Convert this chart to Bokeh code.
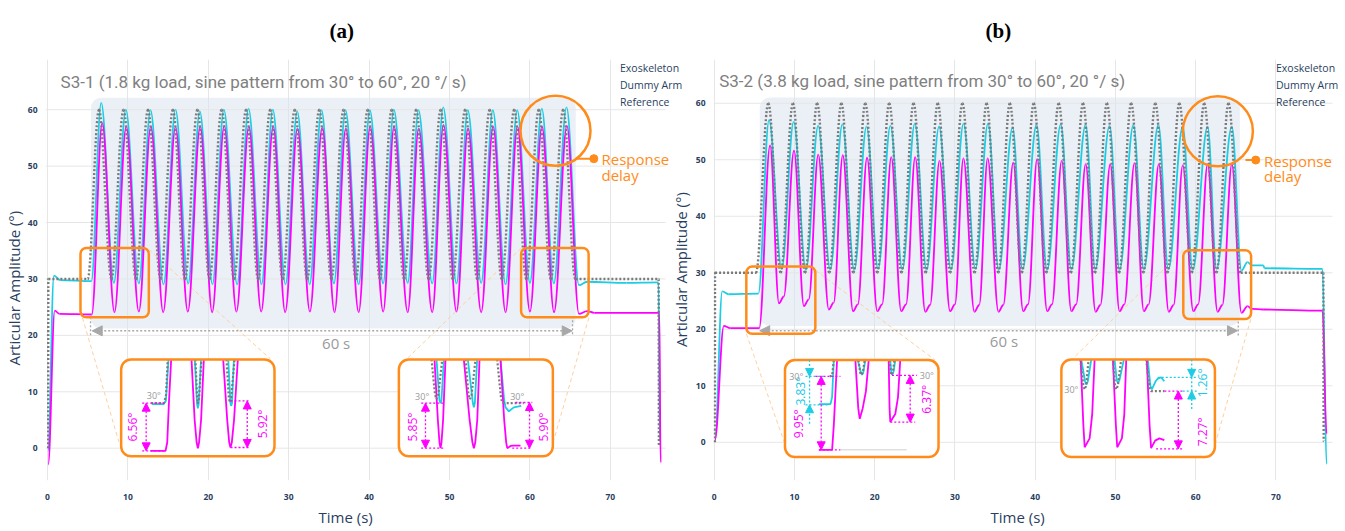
import math
from bokeh.plotting import figure
from bokeh.models import (Range1d, BoxAnnotation, Label, Arrow, NormalHead, Legend,
                          LegendItem, FixedTicker, Title)
from bokeh.layouts import row
from bokeh.embed import file_html
from bokeh.resources import INLINE

# ---------------------------------------------------------------- data (a)
EXO_A_START_T = [0.05, 0.8, 1.6, 5.45]
EXO_A_START_Y = [-0.5, 30.6, 29.8, 29.6]
EXO_A_PEAK_T = [6.68, 9.74, 12.81, 15.92, 18.94, 21.93, 25.0, 28.02, 31.06, 34.08,
                37.06, 40.09, 43.07, 46.14, 49.22, 52.27, 55.39, 58.42, 61.48, 64.55]
EXO_A_PEAK_Y = [61.2, 60.0, 59.9, 60.0, 59.7, 60.0, 60.2, 60.0, 59.7, 59.9,
                59.9, 59.9, 60.0, 59.9, 60.4, 59.9, 59.9, 59.9, 60.2, 60.4]
EXO_A_TROUGH_T = [8.25, 11.36, 14.43, 17.5, 20.52, 23.59, 26.62, 29.6, 32.6, 35.62,
                  38.7, 41.75, 44.8, 47.85, 50.87, 53.94, 56.97, 60.0, 62.97]
EXO_A_TROUGH_Y = [29.3, 29.2, 29.05, 29.2, 29.05, 29.05, 29.05, 29.05, 29.05, 29.2,
                  29.05, 29.2, 29.3, 29.2, 29.2, 29.3, 29.05, 29.3, 29.2]
EXO_A_END_T = [66.1, 67.1, 72.0, 76.0, 76.15]
EXO_A_END_Y = [28.9, 29.5, 29.3, 29.4, 1.2]

DUM_A_START_T = [0.08, 0.9, 1.5, 5.5]
DUM_A_START_Y = [-2.9, 24.4, 23.8, 23.7]
DUM_A_PEAK_T = [6.8, 9.79, 12.85, 15.92, 18.99, 21.98, 25.04, 28.07, 31.09, 34.17,
                37.1, 40.13, 43.1, 46.17, 49.25, 52.3, 55.42, 58.45, 61.5, 64.6]
DUM_A_PEAK_Y = [57.6, 57.0, 57.0, 56.9, 57.0, 57.15, 57.0, 57.0, 56.7, 56.8,
                56.7, 57.0, 57.0, 56.7, 57.3, 56.7, 57.0, 57.0, 57.0, 57.15]
DUM_A_TROUGH_T = [8.33, 11.36, 14.39, 17.45, 20.48, 23.5, 26.58, 29.56, 32.63, 35.7,
                  38.7, 41.75, 44.8, 47.85, 50.87, 53.94, 56.97, 60.0, 63.0]
DUM_A_TROUGH_Y = [24.1, 24.2, 24.1, 24.2, 24.1, 24.2, 24.2, 24.1, 24.2, 24.1,
                  24.1, 24.2, 24.1, 24.1, 24.2, 24.1, 24.1, 24.2, 24.1]
DUM_A_END_T = [66.1, 67.1, 68.0, 76.1, 76.25]
DUM_A_END_Y = [23.8, 24.3, 24.0, 24.0, -2.6]

REF_A_START_T = [0.08, 0.1, 5.0]
REF_A_START_Y = [0.0, 30.0, 30.0]
REF_A_PEAK_T = [6.4, 9.45, 12.5, 15.6, 18.65, 21.65, 24.7, 27.7, 30.75, 33.8,
                36.82, 39.82, 42.8, 45.85, 48.9, 51.95, 55.0, 58.05, 61.1, 64.14]
REF_A_PEAK_Y = [60.0] * 20
REF_A_TROUGH_T = [7.95, 11.0, 14.05, 17.1, 20.15, 23.2, 26.2, 29.25, 32.3, 35.3,
                  38.35, 41.35, 44.35, 47.4, 50.4, 53.45, 56.5, 59.55, 62.6]
REF_A_TROUGH_Y = [30.0] * 19
REF_A_END_T = [65.65, 76.0, 76.05]
REF_A_END_Y = [30.0, 30.0, 0.3]

# ---------------------------------------------------------------- data (b)
EXO_B_START_T = [0.1, 1.0, 1.8, 5.5]
EXO_B_START_Y = [0.5, 26.7, 26.2, 26.3]
EXO_B_PEAK_T = [6.83, 9.9, 12.95, 15.97, 18.98, 21.96, 25.0, 28.02, 31.07, 34.12,
                37.18, 40.16, 43.18, 46.28, 49.26, 52.24, 55.35, 58.38, 61.48, 64.5]
EXO_B_PEAK_Y = [57.0, 56.7, 56.0, 56.25, 55.85, 56.0, 56.4, 55.85, 56.4, 56.4,
                55.7, 56.15, 56.25, 56.15, 56.0, 56.15, 56.15, 55.85, 55.85, 55.85]
EXO_B_TROUGH_T = [8.4, 11.42, 14.45, 17.45, 20.42, 23.44, 26.46, 29.5, 32.55, 35.45,
                  38.42, 41.48, 44.5, 47.48, 50.5, 53.53, 56.59, 59.62, 62.6]
EXO_B_TROUGH_Y = [30.7, 30.5, 30.6, 30.5, 30.7, 30.6, 30.5, 30.6, 30.7, 30.5,
                  30.6, 30.5, 30.6, 30.6, 30.5, 30.6, 30.6, 30.5, 30.7]
EXO_B_END_T = [65.7, 66.45, 67.0, 68.4, 68.6, 75.8, 76.3]
EXO_B_END_Y = [30.4, 31.9, 31.3, 31.3, 30.8, 30.7, -3.9]

DUM_B_START_T = [0.08, 1.2, 2.0, 5.6]
DUM_B_START_Y = [0.4, 20.6, 20.2, 20.2]
DUM_B_PEAK_T = [6.96, 9.94, 12.96, 16.02, 19.04, 22.06, 25.04, 28.07, 31.05, 34.07,
                37.26, 40.24, 43.3, 46.28, 49.35, 52.37, 55.4, 58.38, 61.48, 64.5]
DUM_B_PEAK_Y = [52.55, 51.6, 50.9, 50.8, 50.35, 50.45, 50.45, 49.8, 50.25, 50.25,
                49.5, 50.1, 49.8, 49.2, 49.2, 49.4, 49.2, 49.0, 49.2, 49.2]
DUM_B_TROUGH_T = [8.07, 11.18, 14.28, 17.3, 20.32, 23.3, 26.3, 29.39, 32.42, 35.42,
                  38.5, 41.49, 44.5, 47.52, 50.5, 53.53, 56.64, 59.7, 62.72]
DUM_B_TROUGH_Y = [24.6, 24.1, 23.5, 23.2, 23.2, 23.2, 23.1, 23.2, 23.1, 23.1,
                  23.2, 23.2, 23.2, 23.1, 23.2, 23.2, 23.1, 23.2, 23.1]
DUM_B_KINK_T = [8.67, 11.78, 14.88, 17.9, 20.92, 23.9, 26.9, 29.99, 33.02, 36.02,
                39.1, 42.09, 45.1, 48.12, 51.1, 54.13, 57.24, 60.3, 63.32]
DUM_B_KINK_Y = [25.8, 25.3, 24.7, 24.4, 24.4, 24.4, 24.3, 24.4, 24.3, 24.3,
                24.4, 24.4, 24.4, 24.3, 24.4, 24.4, 24.3, 24.4, 24.3]
DUM_B_END_T = [65.7, 66.45, 67.0, 68.4, 75.8, 76.3]
DUM_B_END_Y = [22.9, 24.1, 23.6, 23.5, 23.3, 1.5]

REF_B_START_T = [0.08, 0.1, 5.2]
REF_B_START_Y = [0.0, 30.0, 30.0]
REF_B_PEAK_T = [6.74, 9.81, 12.83, 15.85, 18.83, 21.81, 24.84, 27.86, 30.93, 33.95,
                36.84, 39.82, 42.93, 45.96, 48.94, 51.96, 54.97, 57.96, 61.06, 64.09]
REF_B_PEAK_Y = [60.0] * 20
REF_B_TROUGH_T = [8.28, 11.32, 14.34, 17.34, 20.32, 23.33, 26.35, 29.4, 32.44, 35.4,
                  38.33, 41.38, 44.45, 47.45, 50.45, 53.47, 56.47, 59.51, 62.58]
REF_B_TROUGH_Y = [30.0] * 19
REF_B_END_T = [65.6, 75.9, 75.95]
REF_B_END_Y = [30.0, 30.0, 0.2]

# ---------------------------------------------------------------- inset views
A1_BOX = (9.16, 28.23, -1.44, 15.74)
A1_MAG = [([12.81, 14.68, 14.89, 15.1, 15.38], [-0.47, -0.47, 1.0, 8.0, 15.74]),
          ([17.91, 18.3, 18.55, 18.7, 18.85, 19.1, 19.44], [15.74, 5.0, 1.0, 0.0, 1.0, 5.0, 15.74]),
          ([21.85, 22.35, 22.6, 22.76, 22.92, 23.2, 23.67], [15.74, 5.0, 1.0, 0.1, 1.0, 5.0, 15.74])]
A1_CYAN = [([13.02, 14.43, 14.72, 15.05], [7.81, 7.81, 8.39, 15.74]),
           ([18.32, 18.6, 18.7, 18.8, 19.1], [15.74, 7.8, 7.06, 7.8, 15.74]),
           ([22.48, 22.75, 22.84, 22.95, 23.18], [15.74, 8.0, 7.5, 8.0, 15.74])]
A1_GRAY = [([12.9, 14.5, 14.75, 14.95], [8.0, 8.0, 9.5, 15.74]),
           ([18.4, 18.6, 18.7, 18.85, 19.15], [15.74, 9.0, 7.9, 9.0, 15.74]),
           ([22.26, 22.55, 22.68, 22.85, 23.26], [15.74, 9.0, 8.1, 9.0, 15.74])]

A2_BOX = (43.7, 62.85, -1.44, 15.74)
A2_MAG = [([48.13, 48.55, 48.75, 48.88, 49.0, 49.2, 49.5], [15.74, 5.0, 1.0, 0.0, 1.0, 5.0, 15.74]),
          ([51.78, 52.5, 52.85, 53.03, 53.2, 53.45, 53.73], [15.74, 5.0, 1.0, 0.0, 1.0, 5.0, 15.74]),
          ([56.34, 56.8, 57.05, 57.18, 57.4, 57.59, 57.92, 58.83], [15.74, 5.0, 1.0, 0.0, 0.2, 0.4, 0.46, 0.46])]
A2_CYAN = [([48.38, 48.75, 48.88, 49.0, 49.3], [15.74, 8.5, 7.98, 8.5, 15.74]),
           ([52.28, 52.9, 53.03, 53.15, 53.44], [15.74, 8.0, 7.23, 8.0, 15.74]),
           ([56.34, 56.8, 56.97, 57.38, 58.0, 58.92], [15.74, 8.5, 7.23, 6.54, 7.23, 7.52])]
A2_GRAY = [([47.76, 48.2, 48.38, 48.6, 49.1], [15.74, 9.5, 8.68, 9.5, 15.74]),
           ([52.0, 52.35, 52.53, 52.75, 53.23], [15.74, 9.5, 8.68, 9.5, 15.74]),
           ([55.93, 56.4, 56.55, 57.0, 59.24], [15.74, 9.0, 8.1, 7.98, 7.98])]

B1_BOX = (8.82, 27.95, -2.6, 14.55)
B1_MAG = [([13.04, 14.69, 14.9, 15.31], [-1.33, -1.33, 3.0, 14.55]),
          ([17.59, 17.95, 18.13, 18.5, 18.9, 19.25], [14.55, 6.0, 4.16, 6.0, 9.0, 14.55]),
          ([21.74, 21.85, 21.94, 22.56, 22.9, 23.18], [14.55, 6.0, 3.58, 5.0, 8.0, 14.55])]
B1_CYAN = [([13.04, 14.49, 14.69, 14.9], [6.76, 6.76, 8.0, 14.55]),
           ([17.89, 18.25, 18.42, 18.6, 18.83], [14.55, 12.5, 11.95, 12.5, 14.55]),
           ([21.94, 22.05, 22.15, 22.35, 22.56], [14.55, 12.5, 11.95, 12.5, 14.55])]
B1_GRAY = [([14.4, 14.7, 14.9], [11.66, 11.8, 14.55]),
           ([17.96, 18.2, 18.34, 18.5, 18.75], [14.55, 12.3, 11.9, 12.3, 14.55]),
           ([21.85, 22.0, 22.1, 22.25, 22.45], [14.55, 12.3, 11.9, 12.3, 14.55])]

B2_BOX = (43.26, 62.39, -2.6, 14.67)
B2_MAG = [([45.66, 46.0, 46.16, 46.78, 47.1, 47.4], [14.67, 3.0, -0.87, 0.69, 5.0, 14.67]),
          ([49.68, 50.05, 50.22, 50.8, 51.1, 51.34], [14.67, 3.0, -0.87, 0.69, 5.0, 14.67]),
          ([53.9, 54.25, 54.44, 54.94, 55.47, 56.09], [14.67, 3.0, -1.04, 0.29, 0.69, 0.4])]
B2_CYAN = [([45.74, 46.2, 46.37, 46.55, 46.99], [14.67, 10.8, 10.22, 10.8, 14.67]),
           ([49.89, 50.15, 50.3, 50.5, 51.05], [14.67, 11.0, 10.51, 11.0, 14.67]),
           ([54.02, 54.35, 54.53, 55.0, 55.27, 55.68, 56.09], [14.67, 10.0, 9.36, 10.8, 11.26, 11.49, 10.8])]
B2_GRAY = [([45.62, 46.0, 46.16, 46.35, 46.65], [14.67, 10.0, 9.36, 10.0, 14.67]),
           ([49.68, 49.95, 50.09, 50.3, 50.71], [14.67, 10.0, 9.36, 10.0, 14.67]),
           ([53.82, 54.25, 54.44, 56.09], [14.67, 9.6, 9.07, 9.07])]

X_TICKS = [0, 10, 20, 30, 40, 50, 60, 70]
Y_TICKS = [0, 10, 20, 30, 40, 50, 60]
SERIES_NAMES = ["Exoskeleton", "Dummy Arm", "Reference"]
TITLE_A = "S3-1 (1.8 kg load, sine pattern from 30° to 60°, 20 °/ s)"
TITLE_B = "S3-2 (3.8 kg load, sine pattern from 30° to 60°, 20 °/ s)"
X_TITLE = "Time (s)"
Y_TITLE = "Articular Amplitude (°)"

# ---------------------------------------------------------------- styles
CYAN = "#1dcde3"
MAG = "#ff00ff"
GRAY = "#7a7a7a"
ORANGE = "#ff8c1a"
AXC = "#2a3f5f"
GRID = "#e6e6e6"
FONT = "Open Sans"


def seq(start_t, start_y, pk_t, pk_y, tr_t, tr_y, end_t, end_y, kink_t=None, kink_y=None):
    ts, ys = list(start_t), list(start_y)
    for i in range(len(pk_t)):
        ts.append(pk_t[i]); ys.append(pk_y[i])
        if i < len(tr_t):
            ts.append(tr_t[i]); ys.append(tr_y[i])
            if kink_t is not None:
                ts.append(kink_t[i]); ys.append(kink_y[i])
    ts += list(end_t); ys += list(end_y)
    return ts, ys


def smooth(p, ts, ys, color, width, dash="solid"):
    x0, x1, y0, y1 = ts[:-1], ts[1:], ys[:-1], ys[1:]
    k = 0.36
    cx0 = [a + (b - a) * k for a, b in zip(x0, x1)]
    cx1 = [b - (b - a) * k for a, b in zip(x0, x1)]
    p.bezier(x0=x0, y0=y0, x1=x1, y1=y1, cx0=cx0, cy0=y0, cx1=cx1, cy1=y1,
             line_color=color, line_width=width, line_dash=dash)


def txt(p, x, y, s, size, color, angle=0.0, align="left", baseline="middle",
        font=FONT, style="normal"):
    p.add_layout(Label(x=x, y=y, text=s, text_font_size=size, text_color=color,
                       angle=angle, text_align=align, text_baseline=baseline,
                       text_font=font, text_font_style=style))


def hline(p, x0, x1, y, color, dash="2 2", width=1.3):
    p.line([x0, x1], [y, y], line_color=color, line_dash=dash, line_width=width)


def dim_arrow(p, x, y0, y1, color, both=True):
    head = lambda: NormalHead(size=8, fill_color=color, line_color=color, line_width=1)
    p.add_layout(Arrow(x_start=x, y_start=y0, x_end=x, y_end=y1,
                       start=head() if both else None, end=head(),
                       line_color=color, line_dash="2 2", line_width=1.3))


def make_fig(width, xr, yr, left, right, panel, title_off, xt_off, grid_x_end, yt_off=None):
    p = figure(width=width, height=528, x_range=Range1d(*xr), y_range=Range1d(*yr),
               output_backend="svg", toolbar_location=None,
               min_border_left=left, min_border_right=right,
               min_border_top=58, min_border_bottom=40)
    p.outline_line_color = None
    p.background_fill_color = "white"
    for ax in (p.xaxis[0], p.yaxis[0]):
        ax.axis_line_color = None
        ax.major_tick_line_color = None
        ax.minor_tick_line_color = None
        ax.major_label_text_font = FONT
        ax.major_label_text_font_size = "8.5px"
        ax.major_label_text_font_style = "bold"
        ax.major_label_text_color = AXC
    p.xaxis[0].ticker = FixedTicker(ticks=X_TICKS)
    p.yaxis[0].ticker = FixedTicker(ticks=Y_TICKS)
    p.xaxis[0].major_label_standoff = 7
    p.yaxis[0].major_label_standoff = 2
    p.xgrid.grid_line_color = GRID
    p.ygrid.visible = False
    # horizontal grid lines, stopping where the reference's plot area ends
    p.segment(x0=[xr[0]] * len(Y_TICKS), y0=Y_TICKS, x1=[grid_x_end] * len(Y_TICKS),
              y1=Y_TICKS, line_color=GRID, line_width=1)
    # panel title "(a)" / "(b)"
    p.title.text = panel
    p.title.align = "left"
    p.title.offset = title_off
    p.title.standoff = 33
    p.title.text_font = "Liberation Serif"
    p.title.text_font_size = "21px"
    p.title.text_font_style = "bold"
    p.title.text_color = "black"
    p.add_layout(Title(text=X_TITLE, align="left", offset=xt_off, standoff=4,
                       text_font=FONT, text_font_size="15px", text_font_style="normal",
                       text_color=AXC), "below")
    if yt_off is not None:
        p.add_layout(Title(text=Y_TITLE, align="left", offset=yt_off, standoff=2,
                           text_font=FONT, text_font_size="15px", text_font_style="normal",
                           text_color=AXC), "left")
    return p


def draw_inset(p, box, mag, cyan, gray):
    l, r, b, t = box
    p.quad(left=[l], right=[r], bottom=[b], top=[t], fill_color="white", line_alpha=0)
    for xs, ys in cyan:
        p.line(xs, ys, line_color=CYAN, line_width=1.8)
    for xs, ys in mag:
        p.line(xs, ys, line_color=MAG, line_width=1.8)
    for xs, ys in gray:
        p.line(xs, ys, line_color=GRAY, line_width=2.2, line_dash="2 2")
    p.add_layout(BoxAnnotation(left=l, right=r, bottom=b, top=t, fill_alpha=0,
                               line_color=ORANGE, line_alpha=1, line_width=2.5,
                               border_radius=10))


def small_box(p, l, r, b, t):
    p.add_layout(BoxAnnotation(left=l, right=r, bottom=b, top=t, fill_alpha=0,
                               line_color=ORANGE, line_alpha=1, line_width=2.5,
                               border_radius=6))


def legend(p, x, y):
    r1 = p.line(x=[], y=[], line_color=CYAN, line_width=2)
    r2 = p.line(x=[], y=[], line_color=MAG, line_width=2)
    r3 = p.line(x=[], y=[], line_color=GRAY, line_width=2.5, line_dash="2 2")
    leg = Legend(items=[LegendItem(label=SERIES_NAMES[0], renderers=[r1]),
                        LegendItem(label=SERIES_NAMES[1], renderers=[r2]),
                        LegendItem(label=SERIES_NAMES[2], renderers=[r3])],
                 location=(x, y), padding=0, margin=0, spacing=1,
                 glyph_width=23, glyph_height=16, label_height=16, label_standoff=4,
                 label_text_font=FONT, label_text_font_size="10.5px", label_text_color=AXC,
                 border_line_alpha=0, background_fill_alpha=0)
    p.add_layout(leg)


def shade(p, l, r, b, t):
    p.add_layout(BoxAnnotation(left=l, right=r, bottom=b, top=t, fill_color="#dbe4f0",
                               fill_alpha=0.55, line_alpha=0, border_radius=10,
                               level="underlay"))


def span_arrow(p, x0, x1, y):
    p.add_layout(Arrow(x_start=x0, y_start=y, x_end=x1, y_end=y,
                       start=NormalHead(size=10, fill_color="#a8a8a8", line_color="#a8a8a8"),
                       end=NormalHead(size=10, fill_color="#a8a8a8", line_color="#a8a8a8"),
                       line_color="#a8a8a8", line_dash="2 2", line_width=1.5))


def delay_marker(p, cx, cy, lx, dx, dy, tx, ty1, ty2):
    p.scatter([cx], [cy], size=70, marker="circle", fill_alpha=0, line_color=ORANGE,
              line_width=2.5)
    p.line([lx, dx], [dy, dy], line_color=ORANGE, line_width=2)
    p.scatter([dx], [dy], size=8, marker="circle", color=ORANGE)
    txt(p, tx, ty1, "Response", "15px", ORANGE)
    txt(p, tx, ty2, "delay", "15px", ORANGE)


# ================================================================ panel (a)
pa = make_fig(692, (-0.25, 80.22), (-5.727, 68.9), 45, 0, "(a)", 284, 273, 76.86, 115)
shade(pa, 5.4, 65.7, 21.2, 62.1)
pa.segment(x0=[4.35, 12.6, 58.92, 67.33], y0=[23.1, 35.2, 35.46, 23.13],
           x1=[8.87, 27.74, 44.74, 62.97], y1=[1.16, 15.8, 15.9, 1.44],
           line_color="#ffcf9f", line_dash="4 3", line_width=1)
span_arrow(pa, 5.56, 65.26, 20.8)
pa.segment(x0=[5.35, 65.3], y0=[20.0, 20.2], x1=[5.35, 65.3], y1=[23.0, 23.1],
           line_color="#a8a8a8", line_dash="2 2", line_width=1.3)
txt(pa, 35.9, 18.7, "60 s", "15px", "#9a9a9a", align="center")

ts, ys = seq(EXO_A_START_T, EXO_A_START_Y, EXO_A_PEAK_T, EXO_A_PEAK_Y, EXO_A_TROUGH_T,
             EXO_A_TROUGH_Y, EXO_A_END_T, EXO_A_END_Y)
smooth(pa, ts, ys, CYAN, 1.8)
ts, ys = seq(DUM_A_START_T, DUM_A_START_Y, DUM_A_PEAK_T, DUM_A_PEAK_Y, DUM_A_TROUGH_T,
             DUM_A_TROUGH_Y, DUM_A_END_T, DUM_A_END_Y)
smooth(pa, ts, ys, MAG, 1.8)
ts, ys = seq(REF_A_START_T, REF_A_START_Y, REF_A_PEAK_T, REF_A_PEAK_Y, REF_A_TROUGH_T,
             REF_A_TROUGH_Y, REF_A_END_T, REF_A_END_Y)
smooth(pa, ts, ys, GRAY, 2.4, "2 2")

small_box(pa, 4.1, 12.6, 23.2, 35.5)
small_box(pa, 58.9, 67.3, 23.2, 35.5)
delay_marker(pa, 63.18, 56.27, 65.7, 67.95, 51.32, 68.9, 51.25, 48.42)

draw_inset(pa, A1_BOX, A1_MAG, A1_CYAN, A1_GRAY)
hline(pa, 11.78, 14.68, 7.98, MAG); hline(pa, 11.78, 14.68, -0.47, MAG)
hline(pa, 22.76, 25.25, 8.38, MAG); hline(pa, 22.76, 25.25, 0.12, MAG)
dim_arrow(pa, 12.27, 7.98, -0.47, MAG)
dim_arrow(pa, 24.84, 8.38, 0.12, MAG)
txt(pa, 10.53, 3.76, "6.56°", "12px", MAG, angle=math.pi / 2, align="center")
txt(pa, 26.7, 4.3, "5.92°", "12px", MAG, angle=math.pi / 2, align="center")
txt(pa, 13.22, 9.42, "30°", "9px", "#999999", align="center")

draw_inset(pa, A2_BOX, A2_MAG, A2_CYAN, A2_GRAY)
hline(pa, 46.48, 49.3, 7.98, MAG); hline(pa, 46.48, 49.3, 0.0, MAG)
hline(pa, 58.2, 60.29, 8.1, MAG); hline(pa, 57.8, 60.29, 0.0, MAG)
dim_arrow(pa, 47.01, 7.98, 0.0, MAG)
dim_arrow(pa, 59.95, 8.1, 0.0, MAG)
txt(pa, 45.36, 3.76, "5.85°", "12px", MAG, angle=math.pi / 2, align="center")
txt(pa, 61.65, 3.76, "5.90°", "12px", MAG, angle=math.pi / 2, align="center")
txt(pa, 46.6, 9.08, "30°", "9px", "#999999", align="center")
txt(pa, 58.42, 9.08, "30°", "9px", "#999999", align="center")

legend(pa, 548, 370)
txt(pa, 1.62, 64.96, TITLE_A, "17px", "#808080", font="Roboto")
# y-axis title of panel (b) is drawn at the right edge of this canvas
txt(pa, 78.73, 31.67, Y_TITLE, "15px", AXC, angle=math.pi / 2, align="center")

# ================================================================ panel (b)
pb = make_fig(653, (-0.09, 78.04), (-6.76, 67.74), 19, 5, "(b)", 272, 277, 77.05, None)
shade(pb, 5.67, 65.5, 20.6, 61.0)
pb.segment(x0=[4.01, 12.62, 58.45, 66.86], y0=[19.18, 30.44, 34.0, 21.78],
           x1=[8.69, 27.52, 44.72, 62.51], y1=[0.17, 14.55, 14.85, 0.12],
           line_color="#ffcf9f", line_dash="4 3", line_width=1)
span_arrow(pb, 5.67, 65.2, 19.75)
pb.segment(x0=[65.3], y0=[18.9], x1=[65.3], y1=[21.8],
           line_color="#a8a8a8", line_dash="2 2", line_width=1.3)
txt(pb, 36.1, 17.9, "60 s", "15px", "#9a9a9a", align="center")

ts, ys = seq(EXO_B_START_T, EXO_B_START_Y, EXO_B_PEAK_T, EXO_B_PEAK_Y, EXO_B_TROUGH_T,
             EXO_B_TROUGH_Y, EXO_B_END_T, EXO_B_END_Y)
smooth(pb, ts, ys, CYAN, 1.8)
ts, ys = seq(DUM_B_START_T, DUM_B_START_Y, DUM_B_PEAK_T, DUM_B_PEAK_Y, DUM_B_TROUGH_T,
             DUM_B_TROUGH_Y, DUM_B_END_T, DUM_B_END_Y, DUM_B_KINK_T, DUM_B_KINK_Y)
smooth(pb, ts, ys, MAG, 1.8)
ts, ys = seq(REF_B_START_T, REF_B_START_Y, REF_B_PEAK_T, REF_B_PEAK_Y, REF_B_TROUGH_T,
             REF_B_TROUGH_Y, REF_B_END_T, REF_B_END_Y)
smooth(pb, ts, ys, GRAY, 2.4, "2 2")

small_box(pb, 4.0, 12.6, 19.2, 31.1)
small_box(pb, 58.45, 66.9, 21.8, 34.0)
delay_marker(pb, 62.76, 55.04, 66.2, 67.48, 49.95, 68.51, 49.77, 47.18)

draw_inset(pb, B1_BOX, B1_MAG, B1_CYAN, B1_GRAY)
hline(pb, 11.38, 13.86, 11.66, CYAN); hline(pb, 11.38, 14.28, 6.64, CYAN)
hline(pb, 12.62, 15.73, 11.66, MAG); hline(pb, 13.04, 15.73, -1.33, MAG)
hline(pb, 15.73, 24.0, -1.33, "#d0d0d0", dash="solid", width=1)
pb.line([11.88, 11.88], [11.66, 6.64], line_color=CYAN, line_dash="2 2", line_width=1.3)
dim_arrow(pb, 11.88, 14.55, 11.66, CYAN, both=False)
dim_arrow(pb, 11.88, 3.29, 6.64, CYAN, both=False)
dim_arrow(pb, 13.33, 11.66, -1.33, MAG)
hline(pb, 22.15, 25.25, 11.83, MAG); hline(pb, 21.94, 25.04, 3.58, MAG)
dim_arrow(pb, 24.42, 11.83, 3.58, MAG)
txt(pb, 10.76, 9.06, "3.83°", "12px", "#1dc8e6", angle=math.pi / 2, align="center")
txt(pb, 10.56, 3.29, "9.95°", "12px", MAG, angle=math.pi / 2, align="center")
txt(pb, 26.49, 7.62, "6.37°", "12px", MAG, angle=math.pi / 2, align="center")
txt(pb, 10.22, 11.66, "30°", "9px", "#999999", align="center")
txt(pb, 26.49, 11.83, "30°", "9px", "#999999", align="center")

draw_inset(pb, B2_BOX, B2_MAG, B2_CYAN, B2_GRAY)
hline(pb, 55.27, 60.24, 11.49, CYAN); hline(pb, 58.38, 60.24, 9.07, CYAN)
hline(pb, 56.09, 58.38, 9.07, MAG); hline(pb, 55.06, 58.38, -1.16, MAG)
pb.line([59.5, 59.5], [11.49, 9.07], line_color=CYAN, line_dash="2 2", line_width=1.3)
dim_arrow(pb, 59.5, 14.67, 11.49, CYAN, both=False)
dim_arrow(pb, 59.5, 5.89, 9.07, CYAN, both=False)
dim_arrow(pb, 57.83, 9.07, -1.16, MAG)
txt(pb, 60.86, 10.51, "1.26°", "12px", "#1dc8e6", angle=math.pi / 2, align="center")
txt(pb, 60.86, 1.85, "7.27°", "12px", MAG, angle=math.pi / 2, align="center")
txt(pb, 44.5, 9.36, "30°", "9px", "#999999", align="center")

legend(pb, 536, 370)
txt(pb, 0.62, 63.93, TITLE_B, "17px", "#808080", font="Roboto")

layout = row(pa, pb)
open("out.html", "w").write(file_html(layout, INLINE))
